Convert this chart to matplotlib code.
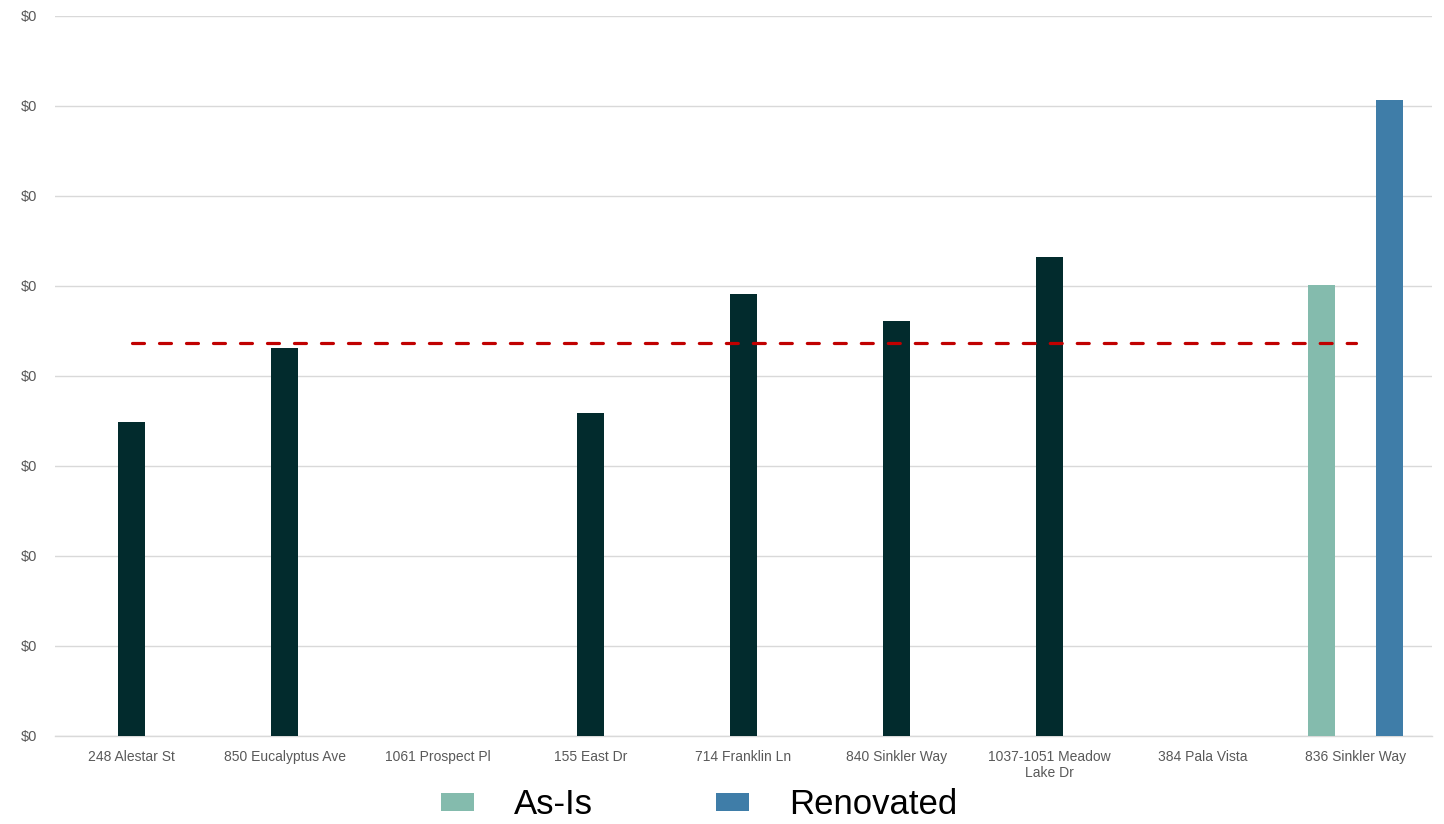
import numpy as np
import matplotlib
matplotlib.use("Agg")
import matplotlib.pyplot as plt
from matplotlib.patches import Patch
from matplotlib.ticker import FuncFormatter, MultipleLocator
from matplotlib import font_manager

# Sale price per square foot of comparable properties
properties = [
    "248 Alestar St",
    "850 Eucalyptus Ave",
    "1061 Prospect Pl",
    "155 East Dr",
    "714 Franklin Ln",
    "840 Sinkler Way",
    "1037-1051 Meadow\nLake Dr",
    "384 Pala Vista",
    "836 Sinkler Way",
]
comp_values = [0.1745, 0.2155, np.nan, 0.1795, 0.2455, 0.2305, 0.266, np.nan]
subject_as_is = 0.2505
subject_renovated = 0.3535
legend_labels = ["As-Is", "Renovated"]

comp_average = float(np.nanmean(comp_values))

COMP_COLOR = "#022B2D"
ASIS_COLOR = "#84BBAD"
RENO_COLOR = "#3F7DA8"
AVG_COLOR = "#C00000"
GRID_COLOR = "#D9D9D9"
TEXT_COLOR = "#595959"

names = {f.name for f in font_manager.fontManager.ttflist}
narrow = "Liberation Sans Narrow" if "Liberation Sans Narrow" in names else "Liberation Sans"

W, H = 1444, 824
fig = plt.figure(figsize=(W / 100, H / 100), dpi=100)
ax = fig.add_axes([55 / W, (H - 736) / H, (1432 - 55) / W, (736 - 16) / H])

bar_w = 0.176
x = np.arange(len(properties))

ax.bar(x[:len(comp_values)], comp_values, width=bar_w, color=COMP_COLOR, zorder=3)
subj = len(properties) - 1
ax.bar(subj - 0.222, subject_as_is, width=bar_w, color=ASIS_COLOR, zorder=3)
ax.bar(subj + 0.222, subject_renovated, width=bar_w, color=RENO_COLOR, zorder=3)

ax.plot([0, subj], [comp_average, comp_average], color=AVG_COLOR, lw=2.3,
        dashes=(3.75, 4.7), dash_capstyle="round", zorder=4)

ax.set_xlim(-0.5, len(properties) - 0.5)
ax.set_ylim(0, 0.4)
ax.yaxis.set_major_locator(MultipleLocator(0.05))
ax.yaxis.set_major_formatter(FuncFormatter(lambda v, p: f"${v:,.0f}"))
ax.grid(axis="y", color=GRID_COLOR, lw=1.0, zorder=0)
ax.set_axisbelow(True)
for s in ["top", "right", "left"]:
    ax.spines[s].set_visible(False)
ax.spines["bottom"].set_color(GRID_COLOR)
ax.spines["bottom"].set_linewidth(1.0)
ax.tick_params(axis="both", length=0)
ax.tick_params(axis="y", pad=13, labelsize=10.5, labelcolor=TEXT_COLOR)
ax.tick_params(axis="x", pad=10, labelsize=10, labelcolor=TEXT_COLOR)
ax.set_xticks(x)
ax.set_xticklabels(properties, fontfamily=narrow, linespacing=1.15)
for t in ax.get_yticklabels():
    t.set_fontfamily("Liberation Sans")

handles = [Patch(facecolor=ASIS_COLOR), Patch(facecolor=RENO_COLOR)]
fig.legend(handles, legend_labels, loc="center", bbox_to_anchor=(699 / W, 1 - 805 / H),
           ncol=2, frameon=False, prop={"family": "Liberation Sans", "size": 25},
           handlelength=0.95, handleheight=0.4, handletextpad=1.15, columnspacing=3.55)

fig.savefig("out.png", dpi=100)
